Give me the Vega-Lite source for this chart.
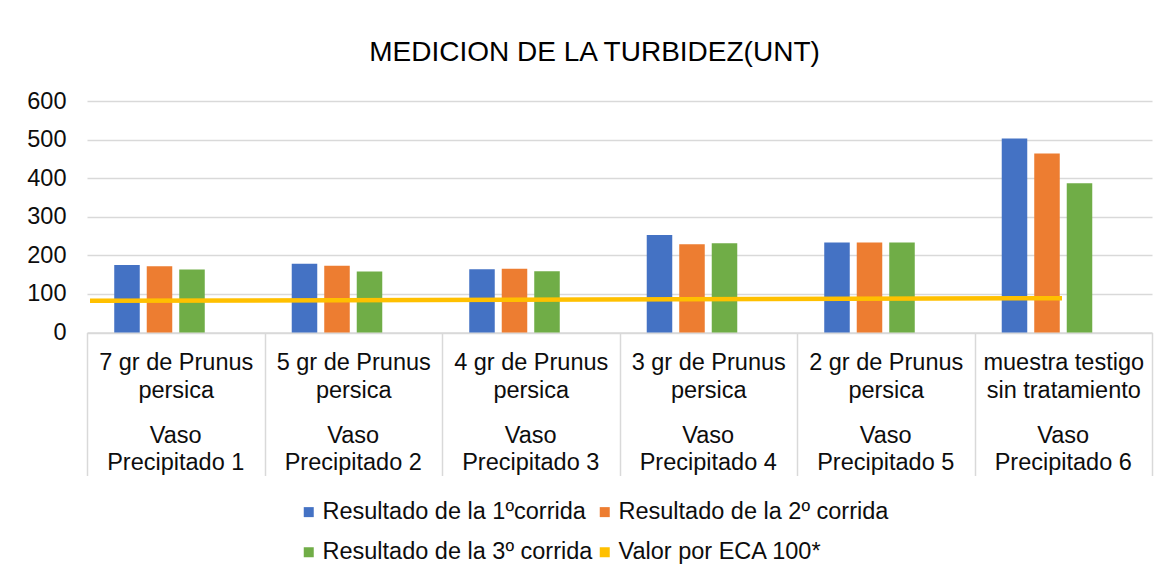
{
  "$schema": "https://vega.github.io/schema/vega-lite/v6.json",
  "width": 1065,
  "height": 231.5,
  "autosize": {"type": "none"},
  "padding": {"left": 87, "top": 101, "right": 18, "bottom": 246.5},
  "background": "white",
  "config": {"view": {"stroke": null}, "font": "Liberation Sans"},
  "title": {
    "text": "MEDICION DE LA TURBIDEZ(UNT)",
    "fontSize": 28,
    "font": "Liberation Sans",
    "fontWeight": "normal",
    "color": "#000000",
    "anchor": "middle",
    "frame": "group",
    "dx": -25,
    "baseline": "alphabetic",
    "offset": 0
  },
  "datasets": {
    "barras": [
      {"vaso": "7 gr de Prunus|persica|Vaso|Precipitado 1", "serie": "Resultado de la 1ºcorrida", "valor": 175},
      {"vaso": "7 gr de Prunus|persica|Vaso|Precipitado 1", "serie": "Resultado de la 2º corrida", "valor": 172},
      {"vaso": "7 gr de Prunus|persica|Vaso|Precipitado 1", "serie": "Resultado de la 3º corrida", "valor": 163},
      {"vaso": "5 gr de Prunus|persica|Vaso|Precipitado 2", "serie": "Resultado de la 1ºcorrida", "valor": 178},
      {"vaso": "5 gr de Prunus|persica|Vaso|Precipitado 2", "serie": "Resultado de la 2º corrida", "valor": 173},
      {"vaso": "5 gr de Prunus|persica|Vaso|Precipitado 2", "serie": "Resultado de la 3º corrida", "valor": 158},
      {"vaso": "4 gr de Prunus|persica|Vaso|Precipitado 3", "serie": "Resultado de la 1ºcorrida", "valor": 164},
      {"vaso": "4 gr de Prunus|persica|Vaso|Precipitado 3", "serie": "Resultado de la 2º corrida", "valor": 165},
      {"vaso": "4 gr de Prunus|persica|Vaso|Precipitado 3", "serie": "Resultado de la 3º corrida", "valor": 159},
      {"vaso": "3 gr de Prunus|persica|Vaso|Precipitado 4", "serie": "Resultado de la 1ºcorrida", "valor": 253},
      {"vaso": "3 gr de Prunus|persica|Vaso|Precipitado 4", "serie": "Resultado de la 2º corrida", "valor": 229},
      {"vaso": "3 gr de Prunus|persica|Vaso|Precipitado 4", "serie": "Resultado de la 3º corrida", "valor": 231},
      {"vaso": "2 gr de Prunus|persica|Vaso|Precipitado 5", "serie": "Resultado de la 1ºcorrida", "valor": 233},
      {"vaso": "2 gr de Prunus|persica|Vaso|Precipitado 5", "serie": "Resultado de la 2º corrida", "valor": 233},
      {"vaso": "2 gr de Prunus|persica|Vaso|Precipitado 5", "serie": "Resultado de la 3º corrida", "valor": 233},
      {"vaso": "muestra testigo|sin tratamiento|Vaso|Precipitado 6", "serie": "Resultado de la 1ºcorrida", "valor": 503},
      {"vaso": "muestra testigo|sin tratamiento|Vaso|Precipitado 6", "serie": "Resultado de la 2º corrida", "valor": 464},
      {"vaso": "muestra testigo|sin tratamiento|Vaso|Precipitado 6", "serie": "Resultado de la 3º corrida", "valor": 387}
    ],
    "eca": [
      {"desde": "7 gr de Prunus|persica|Vaso|Precipitado 1", "hasta": "muestra testigo|sin tratamiento|Vaso|Precipitado 6", "inicio": 82, "fin": 89}
    ]
  },
  "layer": [
    {
      "data": {"name": "barras"},
      "mark": {"type": "bar"},
      "encoding": {
        "x": {
          "field": "vaso",
          "type": "nominal",
          "scale": {
            "domain": [
              "7 gr de Prunus|persica|Vaso|Precipitado 1",
              "5 gr de Prunus|persica|Vaso|Precipitado 2",
              "4 gr de Prunus|persica|Vaso|Precipitado 3",
              "3 gr de Prunus|persica|Vaso|Precipitado 4",
              "2 gr de Prunus|persica|Vaso|Precipitado 5",
              "muestra testigo|sin tratamiento|Vaso|Precipitado 6"
            ],
            "paddingInner": 0,
            "paddingOuter": 0
          },
          "axis": {
            "title": null,
            "orient": "bottom",
            "labelExpr": "isString(datum.value) ? slice(split(datum.value, '|'), 0, 2) : ''",
            "labelAngle": 0,
            "labelFontSize": 23.5,
            "labelColor": "#0d0d0d",
            "labelLineHeight": 27.5,
            "labelBaseline": "middle",
            "labelPadding": -113,
            "labelLimit": 0,
            "labelOverlap": false,
            "labelBound": false,
            "labelFlush": false,
            "ticks": true,
            "tickBand": "extent",
            "tickSize": 143,
            "tickColor": "#d9d9d9",
            "tickWidth": 1.5,
            "domainColor": "#d9d9d9",
            "domainWidth": 1.5,
            "grid": false
          }
        },
        "xOffset": {
          "field": "serie",
          "type": "nominal",
          "scale": {
            "domain": ["Resultado de la 1ºcorrida", "Resultado de la 2º corrida", "Resultado de la 3º corrida", "Valor por ECA 100*"],
            "paddingInner": 0.215,
            "paddingOuter": 0.838
          }
        },
        "y": {
          "field": "valor",
          "type": "quantitative",
          "scale": {"domain": [0, 600], "nice": false},
          "axis": {
            "title": null,
            "values": [0, 100, 200, 300, 400, 500, 600],
            "tickCount": 7,
            "labelOverlap": false,
            "labelFontSize": 23.5,
            "labelColor": "#0d0d0d",
            "labelPadding": 21,
            "ticks": false,
            "domain": false,
            "gridColor": "#d9d9d9",
            "gridWidth": 1.5
          }
        },
        "color": {
          "field": "serie",
          "type": "nominal",
          "scale": {
            "domain": ["Resultado de la 1ºcorrida", "Resultado de la 2º corrida", "Resultado de la 3º corrida", "Valor por ECA 100*"],
            "range": ["#4472C4", "#ED7D31", "#70AD47", "#FFC000"]
          },
          "legend": {
            "title": null,
            "orient": "none",
            "legendX": 210,
            "legendY": 399,
            "columns": 2,
            "direction": "horizontal",
            "symbolType": "square",
            "symbolSize": 100,
            "symbolStrokeWidth": 0,
            "labelFontSize": 23.5,
            "labelColor": "#0d0d0d",
            "labelOffset": 2,
            "labelLimit": 0,
            "rowPadding": 15.5,
            "columnPadding": -4,
            "padding": 0
          }
        }
      }
    },
    {
      "data": {"name": "eca"},
      "mark": {"type": "rule", "color": "#FFC000", "strokeWidth": 4.5},
      "encoding": {
        "x": {
          "field": "desde",
          "type": "nominal",
          "bandPosition": 0.017,
          "axis": {
            "title": null,
            "orient": "bottom",
            "labelExpr": "isString(datum.value) ? slice(split(datum.value, '|'), 2, 4) : ''",
            "labelAngle": 0,
            "labelFontSize": 23.5,
            "labelColor": "#0d0d0d",
            "labelLineHeight": 27.5,
            "labelBaseline": "middle",
            "labelPadding": 102.75,
            "labelLimit": 0,
            "labelOverlap": false,
            "labelBound": false,
            "labelFlush": false,
            "ticks": false,
            "domain": false,
            "grid": false
          }
        },
        "x2": {"field": "hasta", "bandPosition": 0.493},
        "y": {
          "field": "inicio",
          "type": "quantitative",
          "axis": {
            "title": null,
            "values": [0, 100, 200, 300, 400, 500, 600],
            "tickCount": 7,
            "labelOverlap": false,
            "labelFontSize": 23.5,
            "labelColor": "#0d0d0d",
            "labelPadding": 21,
            "ticks": false,
            "domain": false,
            "gridColor": "#d9d9d9",
            "gridWidth": 1.5
          }
        },
        "y2": {"field": "fin"}
      }
    }
  ],
  "resolve": {"axis": {"x": "independent"}}
}
